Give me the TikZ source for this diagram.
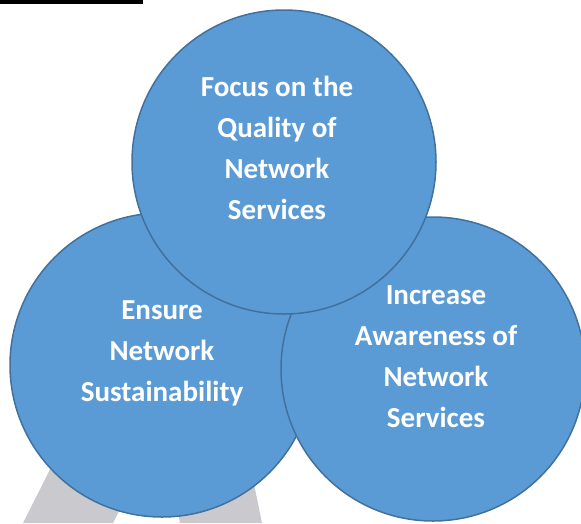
\documentclass[tikz,border=0pt]{standalone}
\usepackage{fontspec}
\setmainfont{Carlito}
\definecolor{bubblefill}{HTML}{5B9BD5}
\definecolor{bubbleline}{HTML}{41719C}
\definecolor{legfill}{HTML}{CAC9CD}
\begin{document}
\begin{tikzpicture}[x=1pt, y=-1pt,
    bubble/.style={circle, draw=bubbleline, line width=1.5pt, fill=bubblefill, minimum size=304pt, inner sep=0pt},
    caption/.style={text=white, align=center, font=\bfseries\fontsize{29}{41}\selectfont}]
                \useasboundingbox (0,0) rectangle (581,523);
                % Rule at the top
                \coordinate (ruleL) at (0,2);
                \coordinate (ruleR) at (143,2);
                \draw[line width=4pt]  (ruleL) -- (ruleR);

                % Grey legs behind
                \fill[legfill] (23,523) -- (113,523) -- (175,400) -- (85,400) -- cycle;
                \fill[legfill] (180,523) -- (262,523) -- (245,440) -- (165,440) -- cycle;

                % Circles
                \node[bubble] at (162, 365)  (sustain)  {};
                \node[bubble] at (433, 369)  (aware)    {};
                \node[bubble] at (284, 162)  (quality)  {};

                % Texts
                \node[caption] at (277, 148)  (qualitytext)  {Focus on the\\Quality of\\Network\\Services};
                \node[caption] at (162, 353)  (sustaintext)  {Ensure\\Network\\Sustainability};
                \node[caption] at (436, 357)  (awaretext)    {Increase\\Awareness of\\Network\\Services};
            \end{tikzpicture}
\end{document}
